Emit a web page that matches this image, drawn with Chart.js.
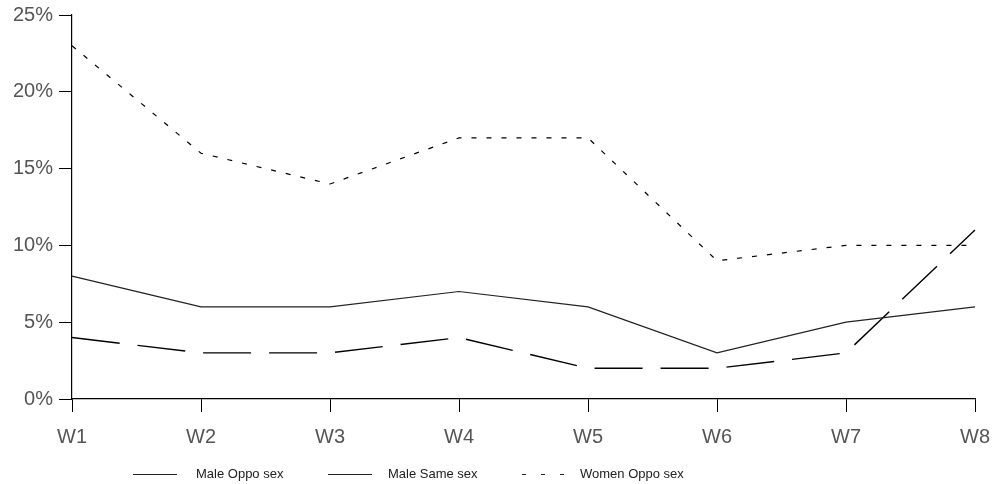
<!DOCTYPE html>
<html>
<head>
<meta charset="utf-8">
<script src="https://cdn.jsdelivr.net/npm/chart.js@4.4.0/dist/chart.umd.min.js"></script>
<style>
  html, body { margin: 0; padding: 0; background: #fff; }
  #wrap { width: 993px; height: 484px; }
</style>
</head>
<body>
<div id="wrap"><canvas id="chart" width="993" height="484"></canvas></div>
<script>
// DATA
const weeks = ["W1", "W2", "W3", "W4", "W5", "W6", "W7", "W8"];
const maleOppo = [8, 6, 6, 7, 6, 3, 5, 6];
const maleSame = [4, 3, 3, 4, 2, 2, 3, 11];
const womenOppo = [23, 16, 14, 17, 17, 9, 10, 10];
const yTicks = [0, 5, 10, 15, 20, 25];

const tickFont = { family: "'Liberation Sans', Arial, sans-serif", size: 20 };

// legend drawn by hand under the axis, left of centre like the original
const legendPlugin = {
  id: "bottomLegend",
  afterDraw(chart) {
    const c = chart.ctx;
    const y = 474.5;
    const items = [
      { x: 133, tx: 196, dash: [] },
      { x: 328, tx: 388, dash: [] },
      { x: 522, tx: 580, dash: [4, 15] },
    ];
    c.save();
    chart.data.datasets.forEach((ds, i) => {
      const it = items[i];
      c.strokeStyle = "#222";
      c.lineWidth = 1;
      c.setLineDash(it.dash);
      c.beginPath();
      c.moveTo(it.x, y);
      c.lineTo(it.x + 44, y);
      c.stroke();
      c.setLineDash([]);
      c.fillStyle = "#222";
      c.font = "13px 'Liberation Sans', Arial, sans-serif";
      c.textBaseline = "middle";
      c.fillText(ds.label, it.tx, y);
    });
    c.restore();
  },
};

const ctx = document.getElementById("chart");

new Chart(ctx, {
  type: "line",
  data: {
    labels: weeks,
    datasets: [
      { label: "Male Oppo sex", data: maleOppo, borderColor: "#222", borderWidth: 1.2, tension: 0, pointRadius: 0 },
      { label: "Male Same sex", data: maleSame, borderColor: "#000", borderWidth: 1.4, borderDash: [48, 18], tension: 0, pointRadius: 0 },
      { label: "Women Oppo sex", data: womenOppo, borderColor: "#000", borderWidth: 1.2, borderDash: [5, 10], tension: 0, pointRadius: 0 },
    ],
  },
  options: {
    responsive: false,
    animation: false,
    layout: { padding: { top: 15, right: 18, left: 0, bottom: 37 } },
    plugins: {
      tooltip: { enabled: false },
      legend: { display: false },
    },
    scales: {
      x: {
        offset: false,
        grid: { drawOnChartArea: false, color: "#000", tickLength: 13, lineWidth: 1 },
        border: { color: "#000", width: 1.2 },
        ticks: { color: "#555", font: tickFont, padding: 13, maxRotation: 0 },
        afterFit: (s) => { s.height = 48; s.paddingRight = 0; s.paddingLeft = 0; },
      },
      y: {
        min: 0,
        max: 25,
        afterBuildTicks: (s) => { s.ticks = yTicks.map((v) => ({ value: v })); },
        grid: { drawOnChartArea: false, color: "#000", tickLength: 13, lineWidth: 1 },
        border: { color: "#000", width: 1.2 },
        ticks: { color: "#555", font: tickFont, padding: 6, callback: (v) => v + "%" },
        afterFit: (s) => { s.width = 72; s.paddingTop = 0; s.paddingBottom = 0; },
      },
    },
  },
  plugins: [legendPlugin],
});
</script>
</body>
</html>
